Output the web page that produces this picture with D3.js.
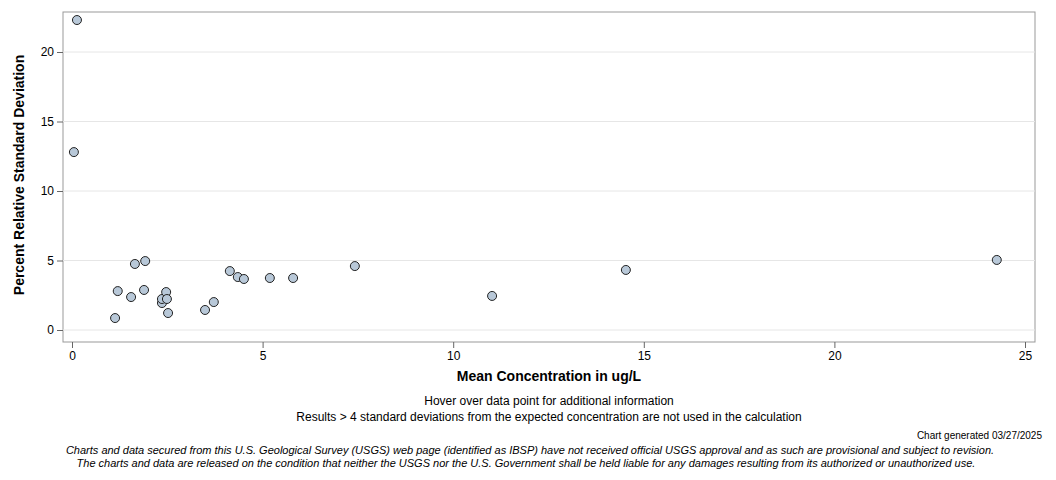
<!DOCTYPE html><html><head><meta charset="utf-8"><script src="https://d3js.org/d3.v7.min.js"></script>
<style>body{margin:0;background:#fff}text{font-family:Arial,"Liberation Sans",sans-serif}</style></head><body><svg width="1056" height="480"></svg><script>
const xVals=[0.13,0.05,1.13,1.2,1.55,1.65,1.92,1.89,2.36,2.36,2.47,2.49,2.52,3.49,3.72,4.14,4.35,4.51,5.19,5.8,7.42,11.02,14.53,24.26];
const yVals=[22.3,12.8,0.86,2.8,2.37,4.75,4.96,2.88,1.94,2.23,2.73,2.23,1.22,1.44,2.01,4.24,3.81,3.67,3.74,3.74,4.6,2.45,4.32,5.04];
const xTicks=[0,5,10,15,20,25];const yTicks=[0,5,10,15,20];
const svg=d3.select("svg");
const L=63,R=1035,T=12,B=342;
const x=d3.scaleLinear().domain([0,25]).range([72,1025]);
const y=d3.scaleLinear().domain([0,20]).range([330,52]);
svg.append("rect").attr("x",L).attr("y",T).attr("width",R-L).attr("height",B-T).attr("fill","#fff").attr("stroke","#999");
yTicks.forEach(t=>svg.append("line").attr("x1",L).attr("x2",R).attr("y1",y(t)).attr("y2",y(t)).attr("stroke","#e6e6e6"));
svg.append("g").attr("transform",`translate(0,${B})`).call(d3.axisBottom(x).tickValues(xTicks).tickSizeOuter(0)).call(g=>{g.select(".domain").remove();g.selectAll("line").attr("stroke","#666");g.selectAll("text").attr("font-size",12).attr("fill","#000");});
svg.append("g").attr("transform",`translate(${L},0)`).call(d3.axisLeft(y).tickValues(yTicks).tickSizeOuter(0)).call(g=>{g.select(".domain").remove();g.selectAll("line").attr("stroke","#666");g.selectAll("text").attr("font-size",12).attr("fill","#000");});
svg.selectAll("circle").data(xVals).enter().append("circle").attr("cx",d=>x(d)).attr("cy",(d,i)=>y(yVals[i])).attr("r",4.5).attr("fill","#b8c8d8").attr("stroke","#222");
const t=(s,xx,yy,sz,opt={})=>svg.append("text").text(s).attr("x",xx).attr("y",yy).attr("font-size",sz).attr("text-anchor",opt.a||"middle").attr("font-weight",opt.w||"normal").attr("font-style",opt.i?"italic":"normal");
t("Mean Concentration in ug/L",549,381,14,{w:"bold"});
svg.append("text").text("Percent Relative Standard Deviation").attr("transform","translate(24,175) rotate(-90)").attr("text-anchor","middle").attr("font-size",14).attr("font-weight","bold");
t("Hover over data point for additional information",549,405,12);
t("Results > 4 standard deviations from the expected concentration are not used in the calculation",549,421,12);
t("Chart generated 03/27/2025",1042,439,10,{a:"end"});
t("Charts and data secured from this U.S. Geological Survey (USGS) web page (identified as IBSP) have not received official USGS approval and as such are provisional and subject to revision.",530,454,11,{i:true});
t("The charts and data are released on the condition that neither the USGS nor the U.S. Government shall be held liable for any damages resulting from its authorized or unauthorized use.",526,467,11,{i:true});
</script></body></html>
